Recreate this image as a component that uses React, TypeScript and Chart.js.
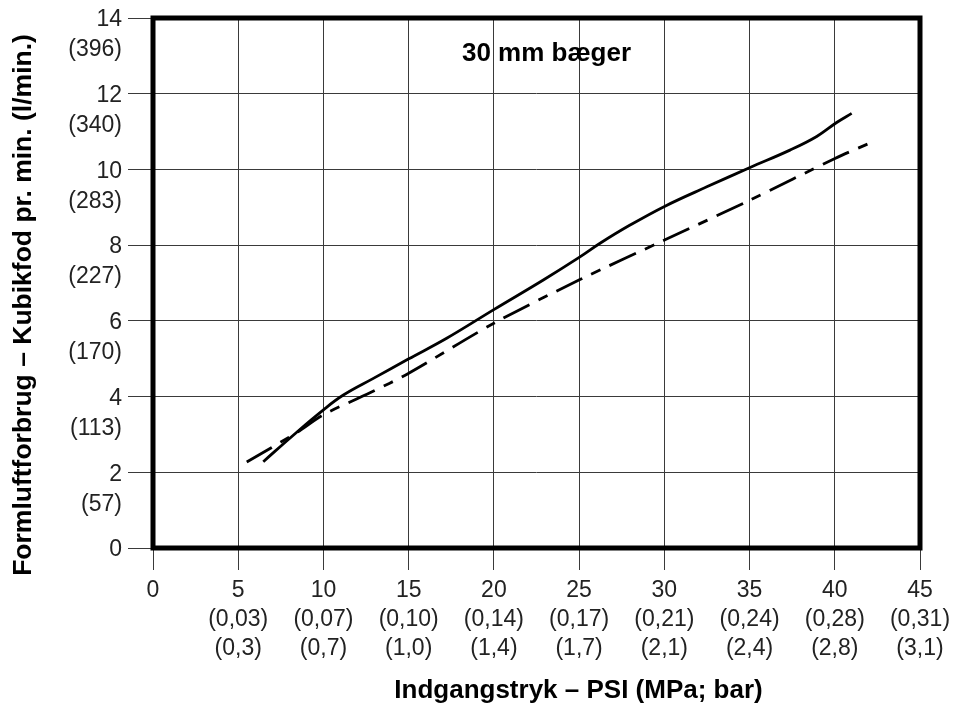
import React, { useEffect, useRef } from 'react';
import { Chart, registerables } from 'chart.js';

Chart.register(...registerables);

// ---- Data ----
const xTickValues = [0, 5, 10, 15, 20, 25, 30, 35, 40, 45];
const psiLabels = ['0', '5', '10', '15', '20', '25', '30', '35', '40', '45'];
const mpaLabels = ['', '(0,03)', '(0,07)', '(0,10)', '(0,14)', '(0,17)', '(0,21)', '(0,24)', '(0,28)', '(0,31)'];
const barLabels = ['', '(0,3)', '(0,7)', '(1,0)', '(1,4)', '(1,7)', '(2,1)', '(2,4)', '(2,8)', '(3,1)'];

const yTickValues = [0, 2, 4, 6, 8, 10, 12, 14];
const cfmLabels = ['0', '2', '4', '6', '8', '10', '12', '14'];
const lpmLabels = ['', '(57)', '(113)', '(170)', '(227)', '(283)', '(340)', '(396)'];

const solidX = [6.47, 8.23, 10.0, 11.17, 12.93, 14.98, 17.23, 19.97, 22.9, 25.05, 26.23, 27.99, 30.04, 32.49, 35.03, 37.37, 38.94, 40.11, 40.99];
const solidY = [2.28, 2.98, 3.65, 4.04, 4.48, 4.99, 5.54, 6.29, 7.08, 7.69, 8.05, 8.53, 9.03, 9.54, 10.05, 10.51, 10.87, 11.24, 11.48];

const dashX = [5.5, 8.43, 10.0, 12.73, 14.98, 19.97, 25.05, 30.04, 35.03, 40.01, 42.03];
const dashY = [2.27, 3.05, 3.52, 4.1, 4.61, 5.93, 7.09, 8.14, 9.19, 10.29, 10.69];

const chartTitle = '30 mm bæger';
const xTitle = 'Indgangstryk – PSI (MPa; bar)';
const yTitle = 'Formluftforbrug – Kubikfod pr. min. (l/min.)';

const FONT = '"Liberation Sans", Arial, Helvetica, sans-serif';

const overlayPlugin = {
  id: 'overlay',
  afterDatasetsDraw(chart: any) {
    const { ctx, chartArea: a } = chart;
    ctx.save();
    ctx.strokeStyle = '#000';
    ctx.lineWidth = 5;
    ctx.lineJoin = 'miter';
    ctx.strokeRect(a.left, a.top, a.right - a.left, a.bottom - a.top);

    ctx.fillStyle = '#000';
    ctx.font = `bold 26px ${FONT}`;
    ctx.textAlign = 'center';
    ctx.textBaseline = 'middle';
    ctx.fillText(chartTitle, (a.left + a.right) / 2 + 10, a.top + 36);

    ctx.fillText(xTitle, (a.left + a.right) / 2 + 42, a.bottom + 143);

    ctx.font = `bold 26.5px ${FONT}`;
    ctx.translate(24, (a.top + a.bottom) / 2 + 22);
    ctx.rotate(-Math.PI / 2);
    ctx.fillText(yTitle, 0, 0);
    ctx.restore();
  },
};

export default function App() {
  const ref = useRef<HTMLCanvasElement>(null);

  useEffect(() => {
    if (!ref.current) return;
    const chart = new Chart(ref.current, {
      type: 'line',
      data: {
        datasets: [
          {
            label: 'solid',
            data: solidX.map((x, i) => ({ x, y: solidY[i] })),
            borderColor: '#000',
            borderWidth: 2.8,
            pointRadius: 0,
            fill: false,
            tension: 0.4,
          },
          {
            label: 'dashed',
            data: dashX.map((x, i) => ({ x, y: dashY[i] })),
            borderColor: '#000',
            borderWidth: 2.8,
            borderDash: [29, 10, 10, 10],
            borderCapStyle: 'butt',
            pointRadius: 0,
            fill: false,
            tension: 0.3,
          },
        ],
      },
      options: {
        responsive: false,
        animation: false,
        devicePixelRatio: 1,
        layout: { padding: { top: 18, right: 34, left: 0, bottom: 0 } },
        plugins: {
          legend: { display: false },
          tooltip: { enabled: false },
          title: { display: false },
        },
        scales: {
          x: {
            type: 'linear',
            min: 0,
            max: 45,
            afterBuildTicks: (s: any) => {
              s.ticks = xTickValues.map((v) => ({ value: v }));
            },
            afterFit: (s: any) => {
              s.height = 158;
              s.paddingLeft = 0;
              s.paddingRight = 0;
            },
            grid: { color: '#3a3a3a', lineWidth: 1, tickLength: 22, drawTicks: true },
            border: { display: false },
            ticks: {
              autoSkip: false,
              maxRotation: 0,
              padding: 6,
              color: '#222',
              font: { family: FONT, size: 23, lineHeight: '29px' },
              callback: (value: any) => {
                const i = xTickValues.indexOf(Number(value));
                if (i < 0) return '';
                return mpaLabels[i] ? [psiLabels[i], mpaLabels[i], barLabels[i]] : [psiLabels[i]];
              },
            },
          },
          y: {
            type: 'linear',
            min: 0,
            max: 14,
            afterBuildTicks: (s: any) => {
              s.ticks = yTickValues.map((v) => ({ value: v }));
            },
            afterFit: (s: any) => {
              s.width = 153;
              s.paddingTop = 0;
              s.paddingBottom = 0;
            },
            grid: { color: '#3a3a3a', lineWidth: 1, tickLength: 25, drawTicks: true },
            border: { display: false },
            ticks: {
              autoSkip: false,
              padding: 6,
              labelOffset: 2,
              color: '#222',
              font: { family: FONT, size: 23, lineHeight: '30px' },
              callback: (value: any) => {
                const i = yTickValues.indexOf(Number(value));
                if (i < 0) return '';
                return lpmLabels[i] ? ['', cfmLabels[i], lpmLabels[i]] : [cfmLabels[i]];
              },
            },
          },
        },
      },
      plugins: [overlayPlugin],
    } as any);
    return () => chart.destroy();
  }, []);

  return (
    <div style={{ position: 'absolute', left: 0, top: 0, width: 954, height: 706, background: '#fff' }}>
      <canvas ref={ref} width={954} height={706} style={{ display: 'block', width: 954, height: 706 }} />
    </div>
  );
}
